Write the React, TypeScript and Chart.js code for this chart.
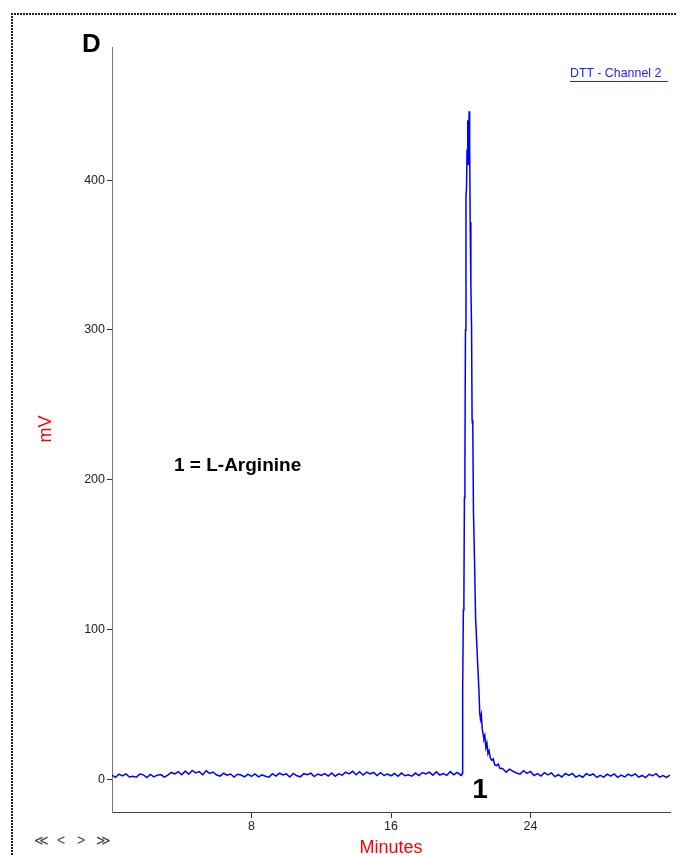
import React, { useEffect, useRef } from "react";
import { Chart, registerables } from "chart.js";

Chart.register(...registerables);

// Retention times (minutes) and detector signal (mV)
const baseTimes = [
  0.0, 0.2, 0.4, 0.6, 0.8, 1.0, 1.2, 1.4, 1.6, 1.8, 2.0, 2.2, 2.4, 2.6, 2.8, 3.0,
  3.2, 3.4, 3.6, 3.8, 4.0, 4.2, 4.4, 4.6, 4.8, 5.0, 5.2, 5.4, 5.6, 5.8, 6.0,
  6.2, 6.4, 6.6, 6.8, 7.0, 7.2, 7.4, 7.6, 7.8, 8.0,
  8.2, 8.4, 8.6, 8.8, 9.0, 9.2, 9.4, 9.6, 9.8, 10.0, 10.2, 10.4, 10.6, 10.8, 11.0,
  11.2, 11.4, 11.6, 11.8, 12.0, 12.2, 12.4, 12.6, 12.8, 13.0,
  13.2, 13.4, 13.6, 13.8, 14.0, 14.2, 14.4, 14.6, 14.8, 15.0, 15.2, 15.4, 15.6, 15.8, 16.0,
  16.2, 16.4, 16.6, 16.8, 17.0, 17.2, 17.4, 17.6, 17.8, 18.0, 18.2, 18.4, 18.6, 18.8, 19.0,
  19.2, 19.4, 19.6, 19.8, 20.0,
];
const baseValues = [
  2.6, 1.2, 3.3, 2.1, 3.5, 1.4, 1.9, 1.3, 3.4, 2.8, 1.0, 3.1, 1.5, 2.6, 3.0, 1.3,
  2.6, 4.4, 3.4, 4.9, 2.9, 5.3, 3.2, 5.8, 4.1, 5.0, 2.9, 5.5, 3.8, 4.7, 2.7,
  2.0, 3.9, 2.6, 3.4, 1.4, 3.2, 2.7, 1.5, 3.3, 1.8,
  3.4, 1.5, 2.8, 1.9, 1.3, 3.6, 2.0, 4.0, 2.7, 3.5, 1.4, 3.8, 2.2, 1.5, 3.6,
  2.9, 3.9, 1.7, 3.4, 2.5, 3.7, 2.0, 4.1, 1.9, 3.5,
  2.6, 4.6, 3.5, 5.2, 2.9, 4.9, 2.7, 4.6, 3.5, 4.4, 2.3, 4.2, 2.4, 3.3, 2.2,
  3.7, 1.9, 4.0, 2.2, 2.8, 1.9, 4.0, 2.3, 4.3, 3.4, 4.6, 2.6, 4.8, 2.7, 3.7,
  2.5, 5.0, 2.9, 4.5, 2.6,
];
const peakTimes = [
  20.05, 20.08, 20.10, 20.12, 20.15, 20.18, 20.21, 20.24, 20.27, 20.30, 20.33, 20.36,
  20.40, 20.44, 20.48, 20.51, 20.54, 20.58, 20.62, 20.65, 20.69, 20.73, 20.79, 20.85,
  20.92, 20.97, 21.04, 21.09, 21.13, 21.18, 21.23, 21.28, 21.33, 21.38, 21.44, 21.50,
  21.56, 21.62, 21.70, 21.78, 21.86, 21.95, 22.05, 22.15, 22.25,
];
const peakValues = [
  2.5, 3.8, 14, 60, 113, 120, 188, 212, 300, 389, 395, 420,
  440, 410, 446, 425, 372, 330, 302, 240, 236, 178, 146, 108,
  90, 77, 60, 44, 40, 43, 34, 30, 27, 29, 21, 24,
  17, 19, 14, 12.5, 13.5, 9.5, 9, 10, 7,
];
const tailTimes = [
  22.4, 22.6, 22.8, 23.0, 23.2, 23.4, 23.6, 23.8, 24.0, 24.2, 24.4, 24.6, 24.8, 25.0,
  25.2, 25.4, 25.6, 25.8, 26.0, 26.2, 26.4, 26.6, 26.8, 27.0, 27.2, 27.4, 27.6, 27.8,
  28.0, 28.2, 28.4, 28.6, 28.8, 29.0, 29.2, 29.4, 29.6, 29.8, 30.0, 30.2, 30.4, 30.6,
  30.8, 31.0, 31.2, 31.4, 31.6, 31.8, 32.0,
];
const tailValues = [
  7.0, 4.6, 6.6, 5.2, 4.0, 3.3, 5.6, 3.8, 5.1, 2.4, 3.7, 2.0, 4.3, 2.8,
  4.1, 1.6, 2.9, 1.4, 3.7, 2.5, 3.8, 1.3, 2.5, 1.2, 3.6, 2.4, 3.4, 1.1,
  2.5, 1.3, 3.3, 2.0, 3.4, 1.2, 2.6, 1.4, 3.3, 2.1, 3.5, 1.3, 2.4, 1.0,
  3.2, 2.2, 3.6, 1.3, 2.3, 1.1, 2.6,
];

const xTicks = [8, 16, 24];
const yTicks = [0, 100, 200, 300, 400];

const FONT = "'Liberation Sans', Arial, sans-serif";

export default function App() {
  const ref = useRef<HTMLCanvasElement | null>(null);

  useEffect(() => {
    if (!ref.current) return;
    const times = [...baseTimes, ...peakTimes, ...tailTimes];
    const values = [...baseValues, ...peakValues, ...tailValues];
    const pts = times.map((t, i) => ({ x: t, y: values[i] }));
    const chart = new Chart(ref.current, {
      type: "line",
      data: {
        datasets: [
          {
            data: pts,
            borderColor: "#0000ff",
            borderWidth: 1.5,
            pointRadius: 0,
            tension: 0,
            fill: false,
          },
        ],
      },
      options: {
        animation: false,
        responsive: false,
        maintainAspectRatio: false,
        layout: { padding: { left: 72, right: 7, top: 47, bottom: 0 } },
        plugins: { legend: { display: false }, tooltip: { enabled: false } },
        scales: {
          x: {
            type: "linear",
            min: 0,
            max: 32,
            afterBuildTicks: (s: any) => {
              s.ticks = xTicks.map((v) => ({ value: v }));
            },
            afterFit: (s: any) => {
              s.height = 44;
            },
            grid: { drawOnChartArea: false, drawTicks: true, tickLength: 6, color: "#333" },
            border: { color: "#444", width: 1 },
            ticks: { color: "#222", font: { family: FONT, size: 12.5 }, padding: 1, maxRotation: 0 },
          },
          y: {
            type: "linear",
            min: -22,
            max: 489,
            afterBuildTicks: (s: any) => {
              s.ticks = yTicks.map((v) => ({ value: v }));
            },
            afterFit: (s: any) => {
              s.width = 40;
            },
            grid: { drawOnChartArea: false, drawTicks: true, tickLength: 5, color: "#333" },
            border: { color: "#777", width: 1 },
            ticks: { color: "#222", font: { family: FONT, size: 12.5 }, padding: 2 },
          },
        },
      },
    });
    return () => chart.destroy();
  }, []);

  const abs = (s: React.CSSProperties): React.CSSProperties => ({
    position: "absolute",
    fontFamily: FONT,
    whiteSpace: "nowrap",
    ...s,
  });

  return (
    <div style={{ position: "absolute", left: 0, top: 0, width: 677, height: 856, background: "#fff", overflow: "hidden" }}>
      <canvas ref={ref} width={677} height={856} style={{ position: "absolute", left: 0, top: 0, width: 677, height: 856 }} />
      {/* dotted frame */}
      <div
        style={{
          position: "absolute", left: 11, top: 13, width: 666, height: 2,
          backgroundImage: "linear-gradient(to right, #222 2px, transparent 2px)",
          backgroundSize: "3px 2px", backgroundRepeat: "repeat-x",
        }}
      />
      <div
        style={{
          position: "absolute", left: 11, top: 13, width: 2, height: 843,
          backgroundImage: "linear-gradient(to bottom, #222 2px, transparent 2px)",
          backgroundSize: "2px 3px", backgroundRepeat: "repeat-y",
        }}
      />
      <div style={abs({ left: 82, top: 29.6, fontSize: 26, lineHeight: "26px", fontWeight: "bold", color: "#000" })}>D</div>
      <div
        style={abs({
          left: 570, top: 67, fontSize: 12.4, lineHeight: "12.4px", color: "#2020ff",
          paddingBottom: 2, paddingRight: 7, borderBottom: "1px solid #2020ff",
        })}
      >
        DTT - Channel 2
      </div>
      <div style={abs({ left: 174, top: 455, fontSize: 19, lineHeight: "19px", fontWeight: "bold", color: "#000" })}>
        1 = L-Arginine
      </div>
      <div style={abs({ left: 460, width: 40, textAlign: "center", top: 775.4, fontSize: 28, lineHeight: "28px", fontWeight: "bold", color: "#000" })}>
        1
      </div>
      <div style={abs({ left: 291, width: 200, textAlign: "center", top: 837.7, fontSize: 18, lineHeight: "18px", color: "#ff0000" })}>
        Minutes
      </div>
      <div
        style={abs({
          left: 5, top: 420, width: 80, height: 18, textAlign: "center", fontSize: 18, lineHeight: "18px",
          color: "#ff0000", transform: "rotate(-90deg)", transformOrigin: "40px 9px",
        })}
      >
        mV
      </div>
      <div style={abs({ left: 34, top: 833, fontSize: 14, lineHeight: "14px", color: "#444" })}>≪</div>
      <div style={abs({ left: 57, top: 833, fontSize: 14, lineHeight: "14px", color: "#444" })}>&lt;</div>
      <div style={abs({ left: 77, top: 833, fontSize: 14, lineHeight: "14px", color: "#444" })}>&gt;</div>
      <div style={abs({ left: 96, top: 833, fontSize: 14, lineHeight: "14px", color: "#444" })}>≫</div>
    </div>
  );
}
